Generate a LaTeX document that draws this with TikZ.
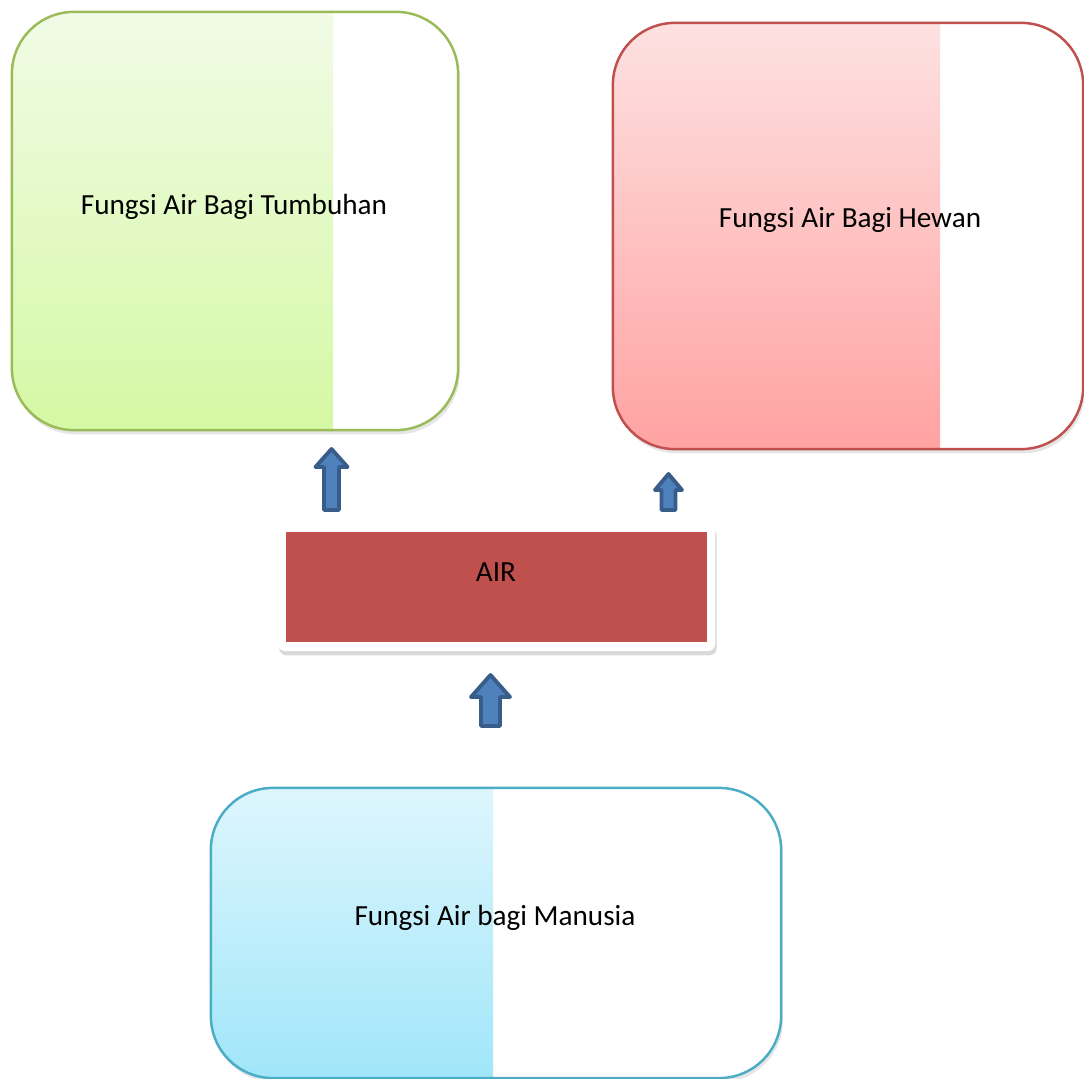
\documentclass[tikz,border=0pt]{standalone}
\usepackage{fontspec}
\setmainfont{Carlito}
\usepackage{tikz}
\usetikzlibrary{calc,shadows}

\definecolor{greenline}{HTML}{9BBB59}
\definecolor{greentop}{HTML}{F1FBE6}
\definecolor{greenbot}{HTML}{D5F8A4}
\definecolor{redline}{HTML}{C0504D}
\definecolor{redtop}{HTML}{FEE1E1}
\definecolor{redbot}{HTML}{FFA2A2}
\definecolor{blueline}{HTML}{4BACC6}
\definecolor{bluetop}{HTML}{DEF6FD}
\definecolor{bluebot}{HTML}{A0E6F9}
\definecolor{airred}{HTML}{C0504D}
\definecolor{arrowfill}{HTML}{4F81BD}
\definecolor{arrowline}{HTML}{385D8A}

\tikzset{
	fungsibox/.style n args={4}{draw=#1, line width=0.7pt, fill=white,
		rounded corners=0.62cm,
		drop shadow={shadow xshift=0.5pt, shadow yshift=-1.2pt, opacity=0.2},
		path picture={\shade[sharp corners, top color=#2, bottom color=#3]
			(path picture bounding box.north west) rectangle
			([xshift=#4]path picture bounding box.south west);}},
	fungsitext/.style={font=\fontsize{8.3pt}{10pt}\selectfont, inner sep=0pt},
	airframe/.style={fill=white, rounded corners=2pt,
		drop shadow={shadow xshift=0.4pt, shadow yshift=-1.2pt, opacity=0.3}},
	airfill/.style={fill=airred, inner sep=0pt},
	uparrow/.style={fill=arrowfill, draw=arrowline, line width=1.1pt, line join=round}
}

\newcommand{\upblock}[6]{\draw[uparrow] (#1-#5,#3) -- (#1,#2) -- (#1+#5,#3) -- (#1+#6,#3) -- (#1+#6,#4) -- (#1-#6,#4) -- (#1-#6,#3) -- cycle;}

\begin{document}
\begin{tikzpicture}[x=0.01cm,y=-0.01cm]
	
	\useasboundingbox (0,0) rectangle (1084,1079);
	
	\node[fungsibox={greenline}{greentop}{greenbot}{3.21cm}, minimum width=4.46cm, minimum height=4.18cm] (tumbuhan) at (235,221) {};
	
	\node[fungsibox={redline}{redtop}{redbot}{3.27cm}, minimum width=4.70cm, minimum height=4.26cm] (hewan) at (848,236) {};
	
	\node[fungsibox={blueline}{bluetop}{bluebot}{2.82cm}, minimum width=5.70cm, minimum height=2.90cm] (manusia) at (496,933) {};
	
	\node[airframe, minimum width=4.37cm, minimum height=1.27cm] (airbox) at (496.5,587.5) {};
	
	\node[airfill, minimum width=4.21cm, minimum height=1.10cm] (air) at (496.5,587) {};
	
	\node[fungsitext] (tumbuhantext) at (234,207) {Fungsi Air Bagi Tumbuhan};
	
	\node[fungsitext] (hewantext) at (850,220) {Fungsi Air Bagi Hewan};
	
	\node[fungsitext] (manusiatext) at (495,918) {Fungsi Air bagi Manusia};
	
	\node[fungsitext] (airtext) at (496,572) {AIR};
	
	\upblock{331.5}{449}{467}{510}{16}{7.5}
	\upblock{668.5}{474}{490}{510}{13.5}{7}
	\upblock{490.5}{675}{697}{726}{19.5}{9.5}
	
\end{tikzpicture}
\end{document}
